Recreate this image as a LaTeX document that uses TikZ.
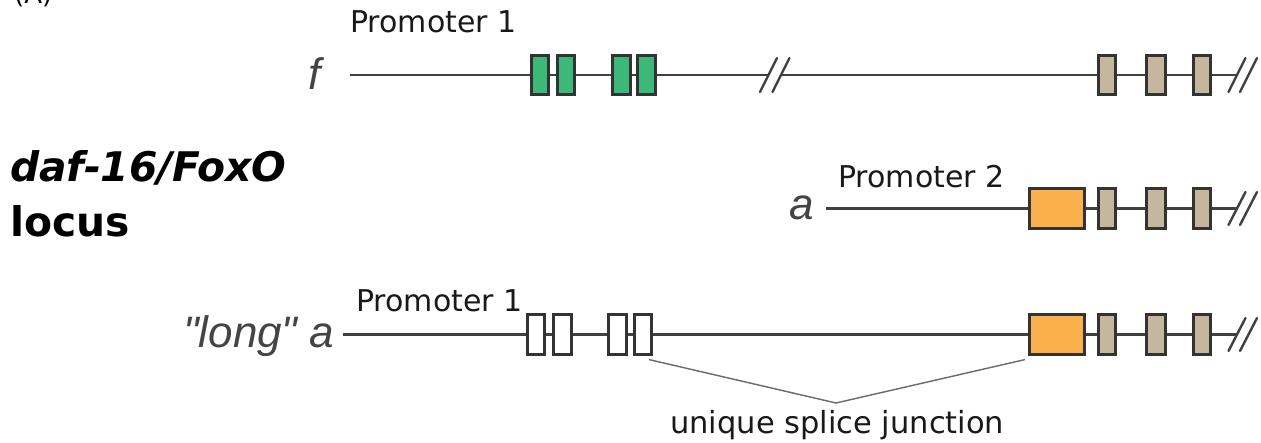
\documentclass[tikz,border=0pt]{standalone}
\usepackage{fontspec}
\setmainfont{DejaVu Sans}
\newfontfamily\lsans{Liberation Sans}
\definecolor{exgreen}{RGB}{60,184,120}
\definecolor{extan}{RGB}{197,183,157}
\definecolor{exorange}{RGB}{251,176,75}
\definecolor{boxline}{RGB}{51,51,51}
\definecolor{intronc}{RGB}{64,64,64}
\definecolor{splicec}{RGB}{105,105,105}
\definecolor{lblgray}{RGB}{68,68,68}
\definecolor{txtdark}{RGB}{25,25,25}
\begin{document}
\begin{tikzpicture}[x=1pt,y=-1pt,
  exon/.style={rectangle, draw=boxline, line width=2.7pt, inner sep=0pt,
    minimum height=39.5pt, minimum width=17.4pt},
  greenex/.style={exon, fill=exgreen},
  tanex/.style={exon, fill=extan},
  whiteex/.style={exon, fill=white},
  orangeex/.style={exon, fill=exorange, minimum width=55.4pt},
  intron/.style={draw=intronc, line width=2.5pt},
  slashmark/.style={draw=intronc, line width=2.4pt, line cap=round},
  splice/.style={draw=splicec, line width=1.4pt},
  promlbl/.style={anchor=base west, inner sep=0pt, text=txtdark,
    font=\fontsize{30}{36}\selectfont},
  isolbl/.style={anchor=base west, inner sep=0pt, text=lblgray,
    font=\lsans\itshape\fontsize{44}{50}\selectfont},
  titlelbl/.style={anchor=base west, inner sep=0pt, text=black},
]
\useasboundingbox (0,0) rectangle (1261,443);

% panel letter (cut at top, as in the reference)
\node[titlelbl, font=\fontsize{26}{30}\selectfont] (panel) at (14,4) {(A)};

% title
\node[titlelbl, font=\bfseries\itshape\fontsize{40.8}{46}\selectfont] (title1) at (10,182) {daf-16/FoxO};
\node[titlelbl, font=\bfseries\fontsize{40.8}{46}\selectfont] (title2) at (10,237) {locus};

% ---------- row 1 : f ----------
\node[isolbl] (fl) at (308,90) {f};
\node[promlbl] (p1) at (350,33) {Promoter 1};
\coordinate (f0) at (350,75);
\node[greenex] (g1) at (540,75) {};
\node[greenex] (g2) at (566,75) {};
\node[greenex] (g3) at (621.5,75) {};
\node[greenex] (g4) at (646.5,75) {};
\coordinate (fb1) at (768.5,75);
\coordinate (fb2) at (781,75);
\node[tanex] (ft1) at (1107,75) {};
\node[tanex, minimum width=19.4pt] (ft2) at (1156,75) {};
\node[tanex] (ft3) at (1202,75) {};
\coordinate (fe1) at (1237,75);
\coordinate (fe2) at (1248.5,75);
\draw[intron] (f0) -- (g1.west);
\draw[intron] (g1) -- (g2);
\draw[intron] (g2) -- (g3);
\draw[intron] (g3) -- (g4);
\draw[intron] (g4) -- (fb1);
\draw[intron] (fb2) -- (ft1);
\draw[intron] (ft1) -- (ft2);
\draw[intron] (ft2) -- (ft3);
\draw[intron] (ft3) -- (fe1);
\foreach \c in {fb1,fb2,fe1,fe2}
  \draw[slashmark] ([shift={(-8.5,17)}]\c) -- ([shift={(8.5,-17)}]\c);

% ---------- row 2 : a ----------
\node[isolbl] (al) at (789,220) {a};
\node[promlbl] (p2) at (838,188) {Promoter 2};
\coordinate (a0) at (826,208.5);
\node[orangeex] (ao) at (1057,208.5) {};
\node[tanex] (at1) at (1107,208.5) {};
\node[tanex, minimum width=19.4pt] (at2) at (1156,208.5) {};
\node[tanex] (at3) at (1202,208.5) {};
\coordinate (ae1) at (1237,208.5);
\coordinate (ae2) at (1248.5,208.5);
\draw[intron] (a0) -- (ao.west);
\draw[intron] (ao) -- (at1);
\draw[intron] (at1) -- (at2);
\draw[intron] (at2) -- (at3);
\draw[intron] (at3) -- (ae1);
\foreach \c in {ae1,ae2}
  \draw[slashmark] ([shift={(-8.5,16.5)}]\c) -- ([shift={(8.5,-16.5)}]\c);

% ---------- row 3 : "long" a ----------
\node[isolbl] (ll) at (183,348) {"long" a};
\node[promlbl] (p3) at (356,312) {Promoter 1};
\coordinate (l0) at (343,334.5);
\node[whiteex] (w1) at (536,334.5) {};
\node[whiteex] (w2) at (562.5,334.5) {};
\node[whiteex] (w3) at (617.5,334.5) {};
\node[whiteex] (w4) at (643,334.5) {};
\node[orangeex] (lo) at (1057,334.5) {};
\node[tanex] (lt1) at (1107,334.5) {};
\node[tanex, minimum width=19.4pt] (lt2) at (1156,334.5) {};
\node[tanex] (lt3) at (1202,334.5) {};
\coordinate (le1) at (1237,334.5);
\coordinate (le2) at (1248.5,334.5);
\draw[intron] (l0) -- (w1.west);
\draw[intron] (w1) -- (w2);
\draw[intron] (w2) -- (w3);
\draw[intron] (w3) -- (w4);
\draw[intron] (w4) -- (lo);
\draw[intron] (lo) -- (lt1);
\draw[intron] (lt1) -- (lt2);
\draw[intron] (lt2) -- (lt3);
\draw[intron] (lt3) -- (le1);
\foreach \c in {le1,le2}
  \draw[slashmark] ([shift={(-8.5,16.5)}]\c) -- ([shift={(8.5,-16.5)}]\c);

% splice junction
\coordinate (sv) at (836,403);
\draw[splice] ([shift={(-4,4)}]w4.south east) -- (sv) -- ([shift={(-3,4)}]lo.south west);
\node[promlbl, font=\fontsize{30.5}{36}\selectfont] (sj) at (670,433) {unique splice junction};
\end{tikzpicture}
\end{document}
